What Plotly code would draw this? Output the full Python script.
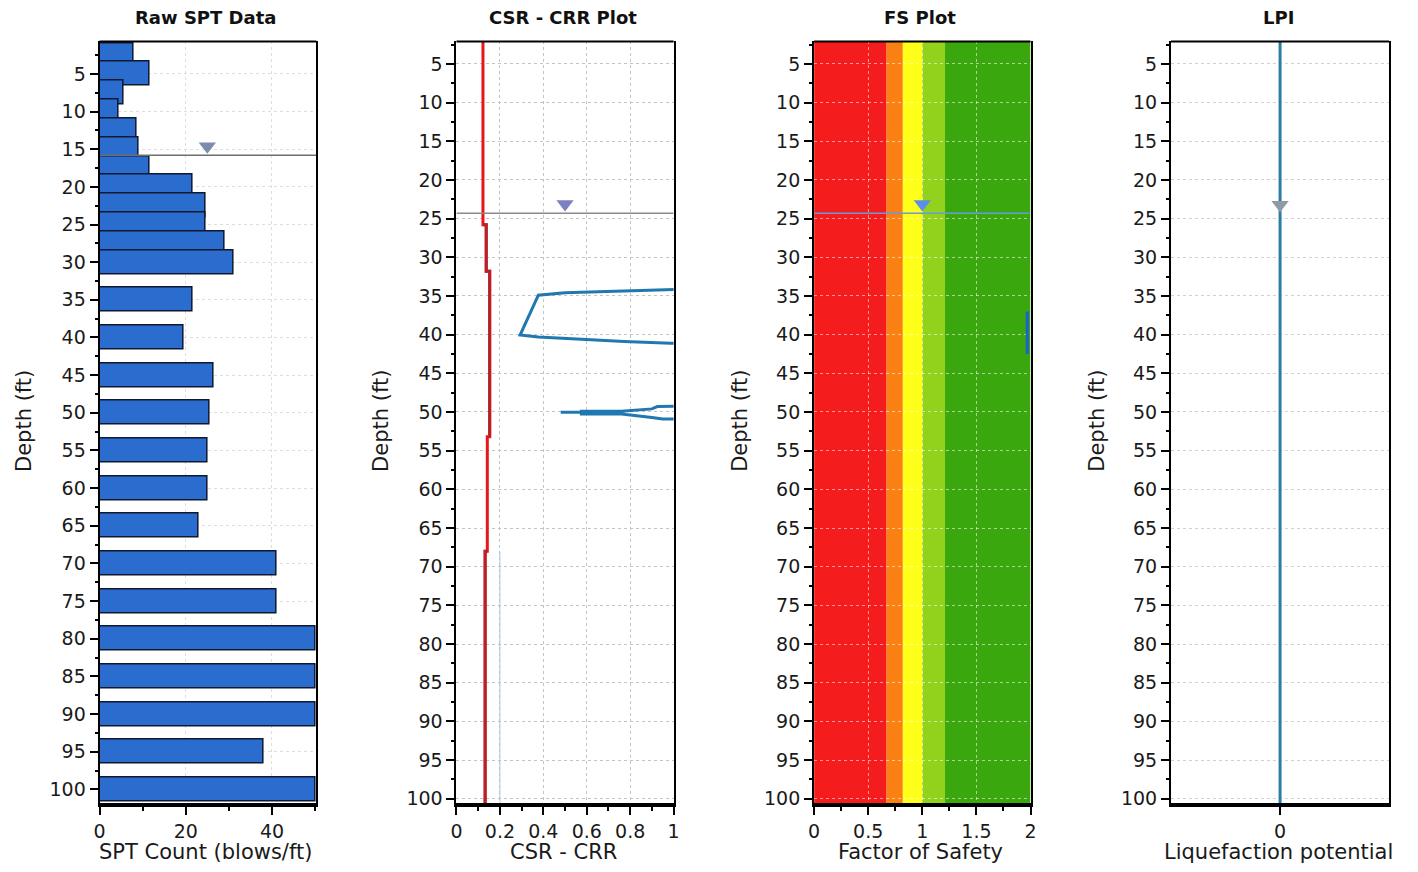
import plotly.graph_objects as go

# ---------------- data ----------------
spt_depth = [2.5, 5, 7.5, 10, 12.5, 15, 17.5, 20, 22.5, 25, 27.5, 30,
             35, 40, 45, 50, 55, 60, 65, 70, 75, 80, 85, 90, 95, 100]
spt_count = [8, 11.5, 5.5, 4.5, 8.5, 9, 11.5, 21.5, 24.5, 24.5, 29, 31,
             21.5, 19.5, 26.5, 25.5, 25, 25, 23, 41, 41, 50, 50, 50, 38, 50]

csr_depth = [0, 25.8, 25.8, 31.8, 31.8, 53.2, 53.2, 68.0, 68.0, 102]
csr_value = [0.122, 0.122, 0.137, 0.137, 0.153, 0.153, 0.142, 0.142, 0.132, 0.132]
# darker-red stretches of the same curve
csr_dark_depth = [25.8, 25.8, 31.8, 31.8, 53.2, None, 68.0, 68.0, 102]
csr_dark_value = [0.122, 0.137, 0.137, 0.153, 0.153, None, 0.142, 0.132, 0.132]

crr_depth = [34.15, 34.3, 34.45, 34.6, 34.9, 40.05, 40.3, 40.6, 40.9, 41.1, 41.15, None,
             49.25, 49.25, 49.3, 49.6, 49.9, 49.9, 50.05, 50.05, 50.05, 50.25, 50.25,
             50.7, 50.9, 50.9]
crr_value = [1.03, 0.87, 0.69, 0.50, 0.377, 0.293, 0.377, 0.567, 0.773, 0.986, 1.03, None,
             1.03, 0.995, 0.925, 0.90, 0.76, 0.575, 0.575, 0.48, 0.575, 0.575, 0.76,
             0.90, 0.95, 1.03]

fs_band_edges = [0, 0.67, 0.82, 1.0, 1.21, 2.0]
fs_band_colors = ["#f41c1c", "#fb8014", "#ffff1a", "#92d11c", "#3aa70f"]
fs_depth = [37.0, 42.5]
fs_value = [1.97, 1.97]

lpi_depth = [0, 102]
lpi_value = [0, 0]

panel_titles = ["Raw SPT Data", "CSR - CRR Plot", "FS Plot", "LPI"]
x_titles = ["SPT Count (blows/ft)", "CSR - CRR", "Factor of Safety", "Liquefaction potential"]
y_title = "Depth (ft)"

gwt_depth = [15.8, 24.3, 24.3, None]
gwt_marker_depth = [14.6, 23.1, 23.1, 23.2]
gwt_marker_x = [25, 0.5, 1.0, 0]

# ---------------- layout helpers ----------------
OFF = 8                      # default page margin of the html body
W, H = 1418 - 2 * OFF, 872 - 2 * OFF
FONT = "DejaVu Sans"
x_px = [(94.3, 313.0), (454.3, 673.3), (815.0, 1033.3), (1175.0, 1395.0)]
ytitle_px = [18, 378, 740, 1100]
x_ranges = [[0, 50.3], [0, 1], [0, 2], [-1, 1]]
y_ranges = [[101.85, 0.7], [100.6, 2.1], [100.6, 2.1], [100.6, 2.1]]
y_dom = [1 - (809 - OFF) / H, 1 - (41.7 - OFF) / H]


def px_x(p):
    return (p - OFF) / W


def px_y(p):
    return 1 - (p - OFF) / H


gwt_line_colors = ["#6f6f6f", "#8a8a8a", "#6a9ad8", None]
gwt_marker_colors = ["#7b8dab", "#7c80c2", "#5b8fe6", "#8e9aa4"]
grid_colors = ["#dedede", "#c4c4c4", "rgba(255,255,255,0.55)", "#d2d2d2"]

fig = go.Figure()

# SPT bars
fig.add_trace(go.Bar(x=spt_count, y=spt_depth, orientation="h", width=3.2,
                     marker=dict(color="#2b6dcf", line=dict(color="#101830", width=1.5)),
                     xaxis="x", yaxis="y", showlegend=False))

# CSR / CRR
fig.add_trace(go.Scatter(x=[0.2, 0.2], y=[68, 102], mode="lines",
                         line=dict(color="#a9c9ea", width=1), xaxis="x2", yaxis="y2",
                         showlegend=False, hoverinfo="skip"))
fig.add_trace(go.Scatter(x=csr_value, y=csr_depth, mode="lines",
                         line=dict(color="#e8161b", width=3), xaxis="x2", yaxis="y2",
                         showlegend=False))
fig.add_trace(go.Scatter(x=csr_dark_value, y=csr_dark_depth, mode="lines",
                         line=dict(color="#b3232b", width=3), xaxis="x2", yaxis="y2",
                         showlegend=False, connectgaps=False))
fig.add_trace(go.Scatter(x=crr_value, y=crr_depth, mode="lines",
                         line=dict(color="#1f78b0", width=3), xaxis="x2", yaxis="y2",
                         showlegend=False, connectgaps=False))

# FS line
fig.add_trace(go.Scatter(x=fs_value, y=fs_depth, mode="lines",
                         line=dict(color="#1e5fd8", width=3), xaxis="x3", yaxis="y3",
                         showlegend=False))

# LPI line
fig.add_trace(go.Scatter(x=lpi_value, y=lpi_depth, mode="lines",
                         line=dict(color="#2b7ca6", width=3), xaxis="x4", yaxis="y4",
                         showlegend=False))

# FS colour bands
shapes = []
for i, c in enumerate(fs_band_colors):
    shapes.append(dict(type="rect", xref="x3", yref="y3",
                       x0=fs_band_edges[i], x1=fs_band_edges[i + 1],
                       y0=y_ranges[2][0], y1=y_ranges[2][1],
                       fillcolor=c, line=dict(width=0), layer="below"))

# top frame line of each panel (bottom axis line is drawn thicker)
for i in range(4):
    sfx = "" if i == 0 else str(i + 1)
    shapes.append(dict(type="line", xref="x" + sfx + " domain", yref="y" + sfx + " domain",
                       x0=0, x1=1, y0=1, y1=1, line=dict(color="black", width=2),
                       layer="above"))

# water tables
for i in range(4):
    sfx = "" if i == 0 else str(i + 1)
    if gwt_depth[i] is not None:
        fig.add_trace(go.Scatter(x=x_ranges[i], y=[gwt_depth[i], gwt_depth[i]], mode="lines",
                                 line=dict(color=gwt_line_colors[i], width=1.5),
                                 xaxis="x" + sfx, yaxis="y" + sfx, showlegend=False,
                                 hoverinfo="skip"))
    fig.add_trace(go.Scatter(x=[gwt_marker_x[i]], y=[gwt_marker_depth[i]], mode="markers",
                             marker=dict(symbol="triangle-down", size=15,
                                         color=gwt_marker_colors[i], line=dict(width=0)),
                             xaxis="x" + sfx, yaxis="y" + sfx, showlegend=False))

layout = dict(width=W, height=H, margin=dict(l=0, r=0, t=0, b=0),
              paper_bgcolor="white", plot_bgcolor="white",
              font=dict(family=FONT, size=19, color="#1a1a1a"),
              shapes=shapes, barmode="overlay", bargap=0)

x_tick = [dict(dtick=20, tick0=0, minor=dict(dtick=10)),
          dict(dtick=0.2, tick0=0, minor=dict(dtick=0.1)),
          dict(dtick=0.5, tick0=0, minor=dict(dtick=0.25)),
          dict(tickmode="array", tickvals=[0], ticktext=["0"])]

annotations = []
for i in range(4):
    sfx = "" if i == 0 else str(i + 1)
    dom = [px_x(x_px[i][0]), px_x(x_px[i][1])]
    xa = dict(domain=dom, anchor="y" + sfx, range=x_ranges[i], autorange=False,
              showline=True, linecolor="black", linewidth=3.5, mirror=False,
              ticks="outside", ticklen=8, tickwidth=1.5, tickcolor="black",
              showgrid=(i != 3), gridcolor=grid_colors[i], griddash="dot", gridwidth=1,
              zeroline=False, tickfont=dict(size=19))
    xt = dict(x_tick[i])
    if "minor" in xt:
        xt["minor"] = dict(xt["minor"], ticks="outside", ticklen=4, tickcolor="black",
                           showgrid=False)
    xa.update(xt)
    ya = dict(domain=y_dom, anchor="x" + sfx, range=y_ranges[i], autorange=False,
              showline=True, linecolor="black", linewidth=2, mirror=True,
              ticks="outside", ticklen=8, tickwidth=1.5, tickcolor="black",
              tick0=0, dtick=5,
              minor=dict(tick0=0, dtick=2.5, ticks="outside", ticklen=3,
                         tickcolor="black", showgrid=False),
              showgrid=True, gridcolor=grid_colors[i], griddash="dot", gridwidth=1,
              zeroline=False, tickfont=dict(size=19))
    layout["xaxis" + sfx] = xa
    layout["yaxis" + sfx] = ya
    cx = (dom[0] + dom[1]) / 2
    annotations.append(dict(text="<b>" + panel_titles[i] + "</b>", xref="paper", yref="paper",
                            x=cx - 2 / W, y=px_y(18), xanchor="center", yanchor="middle",
                            showarrow=False, font=dict(size=18, family=FONT, color="#111")))
    annotations.append(dict(text=x_titles[i], xref="paper", yref="paper",
                            x=cx - 2 / W, y=px_y(858), xanchor="center", yanchor="middle",
                            showarrow=False, font=dict(size=21, family=FONT, color="#1a1a1a")))
    annotations.append(dict(text=y_title, xref="paper", yref="paper", textangle=-90,
                            x=px_x(ytitle_px[i]), y=px_y(424), xanchor="center",
                            yanchor="middle", showarrow=False,
                            font=dict(size=21, family=FONT, color="#1a1a1a")))
layout["annotations"] = annotations

fig.update_layout(**layout)
fig.write_html("out.html")
